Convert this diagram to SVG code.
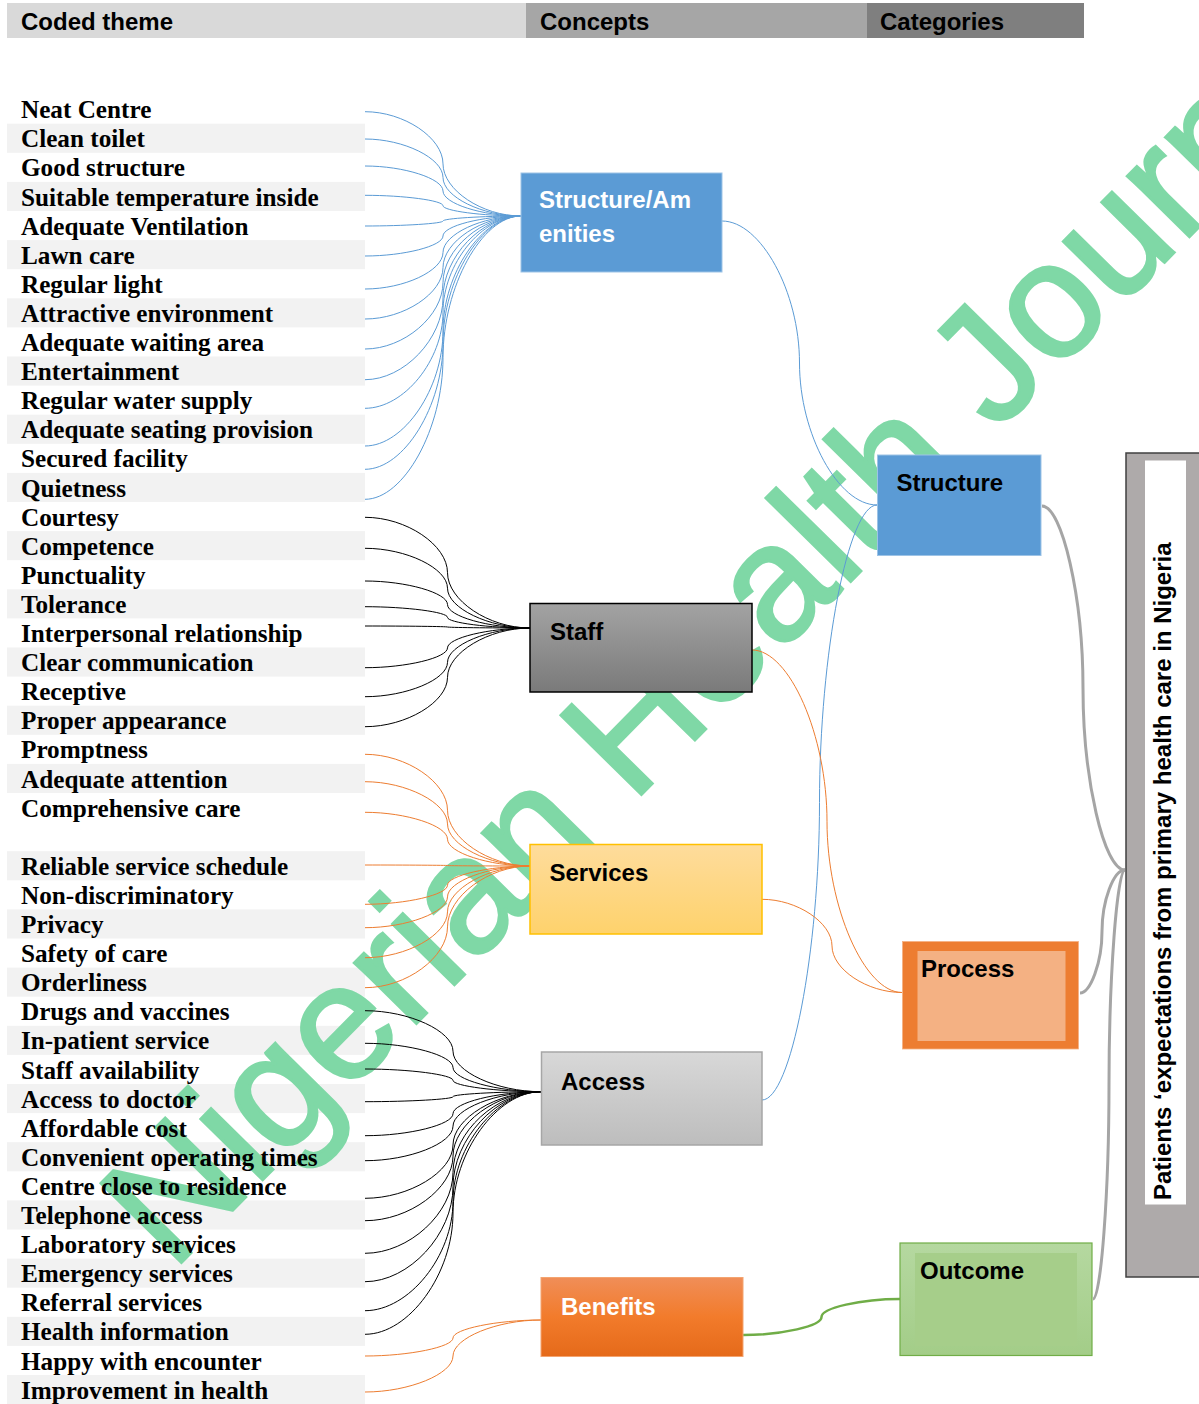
<svg xmlns="http://www.w3.org/2000/svg" width="1199" height="1404" viewBox="0 0 1199 1404">
<defs>
<linearGradient id="gStaff" x1="0" y1="0" x2="0" y2="1"><stop offset="0" stop-color="#a3a3a3"/><stop offset="1" stop-color="#7a7a7a"/></linearGradient>
<linearGradient id="gServ" x1="0" y1="0" x2="0" y2="1"><stop offset="0" stop-color="#fedc9c"/><stop offset="1" stop-color="#fed26c"/></linearGradient>
<linearGradient id="gAcc" x1="0" y1="0" x2="0" y2="1"><stop offset="0" stop-color="#d8d8d8"/><stop offset="1" stop-color="#bdbdbd"/></linearGradient>
<linearGradient id="gBen" x1="0" y1="0" x2="0" y2="1"><stop offset="0" stop-color="#f08e58"/><stop offset="0.5" stop-color="#f27b2b"/><stop offset="1" stop-color="#e56a1a"/></linearGradient>
<linearGradient id="gOut" x1="0" y1="0" x2="0" y2="1"><stop offset="0" stop-color="#b5d8a0"/><stop offset="1" stop-color="#a3cd88"/></linearGradient>
</defs>
<style>
.hd{font-family:"Liberation Sans",Arial,sans-serif;font-weight:bold;font-size:24px;fill:#000}
.it{font-family:"Liberation Serif","Times New Roman",serif;font-weight:bold;font-size:25.2px;fill:#000}
.bx{font-family:"Liberation Sans",Arial,sans-serif;font-weight:bold;font-size:24px}
.band{fill:#f2f2f2}
.wm{font-family:"Liberation Sans",Arial,sans-serif;font-size:164px;fill:#7fd8a6;stroke:#7fd8a6;stroke-width:3}
.cb{fill:none;stroke:#5b9bd5;stroke-width:1}
.ck{fill:none;stroke:#000;stroke-width:1}
.co{fill:none;stroke:#ed7d31;stroke-width:1}
.cg{fill:none;stroke:#a5a5a5;stroke-width:3}
.cgr{fill:none;stroke:#70ad47;stroke-width:2.5}
</style>
<rect width="1199" height="1404" fill="#fff"/>
<g id="header">
<rect x="7" y="3" width="519" height="35" fill="#d9d9d9"/>
<rect x="526" y="3" width="341" height="35" fill="#a6a6a6"/>
<rect x="867" y="3" width="217" height="35" fill="#7f7f7f"/>
<text class="hd" x="21" y="30">Coded theme</text>
<text class="hd" x="540" y="30">Concepts</text>
<text class="hd" x="880" y="30">Categories</text>
</g>
<g id="bands">
<rect class="band" x="7" y="123.7" width="358" height="29.1"/>
<rect class="band" x="7" y="181.9" width="358" height="29.1"/>
<rect class="band" x="7" y="240.1" width="358" height="29.1"/>
<rect class="band" x="7" y="298.3" width="358" height="29.1"/>
<rect class="band" x="7" y="356.5" width="358" height="29.1"/>
<rect class="band" x="7" y="414.7" width="358" height="29.1"/>
<rect class="band" x="7" y="472.9" width="358" height="29.1"/>
<rect class="band" x="7" y="531.1" width="358" height="29.1"/>
<rect class="band" x="7" y="589.3" width="358" height="29.1"/>
<rect class="band" x="7" y="647.5" width="358" height="29.1"/>
<rect class="band" x="7" y="705.7" width="358" height="29.1"/>
<rect class="band" x="7" y="763.9" width="358" height="29.1"/>
<rect class="band" x="7" y="851.2" width="358" height="29.1"/>
<rect class="band" x="7" y="909.4" width="358" height="29.1"/>
<rect class="band" x="7" y="967.6" width="358" height="29.1"/>
<rect class="band" x="7" y="1025.8" width="358" height="29.1"/>
<rect class="band" x="7" y="1084.0" width="358" height="29.1"/>
<rect class="band" x="7" y="1142.2" width="358" height="29.1"/>
<rect class="band" x="7" y="1200.4" width="358" height="29.1"/>
<rect class="band" x="7" y="1258.6" width="358" height="29.1"/>
<rect class="band" x="7" y="1316.8" width="358" height="29.1"/>
<rect class="band" x="7" y="1375.0" width="358" height="29.1"/>
</g>
<text class="wm" transform="translate(172,1272) rotate(-45.5)">Nigerian Health Journal</text>
<g id="connectors">
<path class="cb" d="M365,111.7 C404,111.7 443,137.8 443,163.9 C443,189.9 482,216 521,216"/>
<path class="cb" d="M365,139 C404,139 443,158.3 443,177.5 C443,196.8 482,216 521,216"/>
<path class="cb" d="M365,166 C404,166 443,178.5 443,191 C443,203.5 482,216 521,216"/>
<path class="cb" d="M365,195.3 C404,195.3 443,200.5 443,205.7 C443,210.8 482,216 521,216"/>
<path class="cb" d="M365,226 C404,226 443,223.5 443,221 C443,218.5 482,216 521,216"/>
<path class="cb" d="M365,256 C404,256 443,246 443,236 C443,226 482,216 521,216"/>
<path class="cb" d="M365,289 C404,289 443,270.8 443,252.5 C443,234.3 482,216 521,216"/>
<path class="cb" d="M365,319 C404,319 443,293.3 443,267.5 C443,241.8 482,216 521,216"/>
<path class="cb" d="M365,349 C404,349 443,315.8 443,282.5 C443,249.3 482,216 521,216"/>
<path class="cb" d="M365,379.7 C404,379.7 443,338.8 443,297.9 C443,256.9 482,216 521,216"/>
<path class="cb" d="M365,408.3 C404,408.3 443,360.2 443,312.2 C443,264.1 482,216 521,216"/>
<path class="cb" d="M365,446 C404,446 443,388.5 443,331 C443,273.5 482,216 521,216"/>
<path class="cb" d="M365,469.3 C404,469.3 443,406 443,342.7 C443,279.3 482,216 521,216"/>
<path class="cb" d="M365,499.3 C404,499.3 443,428.5 443,357.7 C443,286.8 482,216 521,216"/>
<path class="ck" d="M365,517.3 C406.3,517.3 447.5,545 447.5,572.7 C447.5,600.3 488.8,628 530,628"/>
<path class="ck" d="M365,548.3 C406.3,548.3 447.5,568.2 447.5,588.2 C447.5,608.1 488.8,628 530,628"/>
<path class="ck" d="M365,581 C406.3,581 447.5,592.8 447.5,604.5 C447.5,616.3 488.8,628 530,628"/>
<path class="ck" d="M365,606.7 C406.3,606.7 447.5,612 447.5,617.4 C447.5,622.7 488.8,628 530,628"/>
<path class="ck" d="M365,626 C406.3,626 447.5,626.5 447.5,627 C447.5,627.5 488.8,628 530,628"/>
<path class="ck" d="M365,667.7 C406.3,667.7 447.5,657.8 447.5,647.9 C447.5,637.9 488.8,628 530,628"/>
<path class="ck" d="M365,696.7 C406.3,696.7 447.5,679.5 447.5,662.4 C447.5,645.2 488.8,628 530,628"/>
<path class="ck" d="M365,726.7 C406.3,726.7 447.5,702 447.5,677.4 C447.5,652.7 488.8,628 530,628"/>
<path class="co" d="M365,754.3 C406.3,754.3 447.5,782.2 447.5,810.2 C447.5,838.1 488.8,866 530,866"/>
<path class="co" d="M365,781.7 C406.3,781.7 447.5,802.8 447.5,823.9 C447.5,844.9 488.8,866 530,866"/>
<path class="co" d="M365,812.3 C406.3,812.3 447.5,825.7 447.5,839.2 C447.5,852.6 488.8,866 530,866"/>
<path class="co" d="M365,865 C406.3,865 447.5,865.3 447.5,865.5 C447.5,865.8 488.8,866 530,866"/>
<path class="co" d="M365,904.3 C406.3,904.3 447.5,894.7 447.5,885.2 C447.5,875.6 488.8,866 530,866"/>
<path class="co" d="M365,927.7 C406.3,927.7 447.5,912.3 447.5,896.9 C447.5,881.4 488.8,866 530,866"/>
<path class="co" d="M365,957.7 C406.3,957.7 447.5,934.8 447.5,911.9 C447.5,888.9 488.8,866 530,866"/>
<path class="co" d="M365,987.7 C406.3,987.7 447.5,957.3 447.5,926.9 C447.5,896.4 488.8,866 530,866"/>
<path class="ck" d="M365,1010.7 C409,1010.7 453,1031 453,1051.2 C453,1071.5 497,1091.7 541,1091.7"/>
<path class="ck" d="M365,1043.3 C409,1043.3 453,1055.4 453,1067.5 C453,1079.6 497,1091.7 541,1091.7"/>
<path class="ck" d="M365,1069 C409,1069 453,1074.7 453,1080.4 C453,1086 497,1091.7 541,1091.7"/>
<path class="ck" d="M365,1101.7 C409,1101.7 453,1099.2 453,1096.7 C453,1094.2 497,1091.7 541,1091.7"/>
<path class="ck" d="M365,1135.7 C409,1135.7 453,1124.7 453,1113.7 C453,1102.7 497,1091.7 541,1091.7"/>
<path class="ck" d="M365,1160.7 C409,1160.7 453,1143.5 453,1126.2 C453,1109 497,1091.7 541,1091.7"/>
<path class="ck" d="M365,1198.3 C409,1198.3 453,1171.7 453,1145 C453,1118.4 497,1091.7 541,1091.7"/>
<path class="ck" d="M365,1220.7 C409,1220.7 453,1188.5 453,1156.2 C453,1124 497,1091.7 541,1091.7"/>
<path class="ck" d="M365,1253.3 C409,1253.3 453,1212.9 453,1172.5 C453,1132.1 497,1091.7 541,1091.7"/>
<path class="ck" d="M365,1281.7 C409,1281.7 453,1234.2 453,1186.7 C453,1139.2 497,1091.7 541,1091.7"/>
<path class="ck" d="M365,1310.7 C409,1310.7 453,1256 453,1201.2 C453,1146.5 497,1091.7 541,1091.7"/>
<path class="ck" d="M365,1334.3 C409,1334.3 453,1273.7 453,1213 C453,1152.4 497,1091.7 541,1091.7"/>
<path class="co" d="M365,1356 C409,1356 453,1347 453,1338 C453,1329 497,1320 541,1320"/>
<path class="co" d="M365,1392 C409,1392 453,1374 453,1356 C453,1338 497,1320 541,1320"/>
<path class="cb" d="M722,221 C760.8,221 799.5,292 799.5,363 C799.5,434 838.3,505 877,505"/>
<path class="cb" d="M762,1100 C790.8,1100 819.5,951.3 819.5,802.5 C819.5,653.8 848.3,505 877,505"/>
<path class="co" d="M752,650 C789.5,650 827,735.6 827,821.3 C827,906.9 864.5,992.5 902,992.5"/>
<path class="co" d="M762,899.3 C797,899.3 832,922.6 832,945.9 C832,969.2 867,992.5 902,992.5"/>
<path class="cgr" d="M743,1335 C782.3,1335 821.5,1326 821.5,1317 C821.5,1308 860.8,1299 900,1299"/>
<path class="cg" d="M1042,506 C1062,506 1083,597 1083,688 C1083,779 1104,870 1125,870"/>
<path class="cg" d="M1080,993 C1090.5,993 1102,962.3 1102,931.5 C1102,900.8 1113.5,870 1125,870"/>
<path class="cg" d="M1093,1299 C1101,1299 1109,1191.8 1109,1084.5 C1109,977.3 1117,870 1125,870"/>
</g>
<g id="items">
<text class="it" x="21" y="118.2">Neat Centre</text>
<text class="it" x="21" y="147.3">Clean toilet</text>
<text class="it" x="21" y="176.4">Good structure</text>
<text class="it" x="21" y="205.5">Suitable temperature inside</text>
<text class="it" x="21" y="234.6">Adequate Ventilation</text>
<text class="it" x="21" y="263.7">Lawn care</text>
<text class="it" x="21" y="292.8">Regular light</text>
<text class="it" x="21" y="321.9">Attractive environment</text>
<text class="it" x="21" y="351.0">Adequate waiting area</text>
<text class="it" x="21" y="380.1">Entertainment</text>
<text class="it" x="21" y="409.2">Regular water supply</text>
<text class="it" x="21" y="438.3">Adequate seating provision</text>
<text class="it" x="21" y="467.4">Secured facility</text>
<text class="it" x="21" y="496.5">Quietness</text>
<text class="it" x="21" y="525.6">Courtesy</text>
<text class="it" x="21" y="554.7">Competence</text>
<text class="it" x="21" y="583.8">Punctuality</text>
<text class="it" x="21" y="612.9">Tolerance</text>
<text class="it" x="21" y="642.0">Interpersonal relationship</text>
<text class="it" x="21" y="671.1">Clear communication</text>
<text class="it" x="21" y="700.2">Receptive</text>
<text class="it" x="21" y="729.3">Proper appearance</text>
<text class="it" x="21" y="758.4">Promptness</text>
<text class="it" x="21" y="787.5">Adequate attention</text>
<text class="it" x="21" y="816.6">Comprehensive care</text>
<text class="it" x="21" y="874.8">Reliable service schedule</text>
<text class="it" x="21" y="903.9">Non-discriminatory</text>
<text class="it" x="21" y="933.0">Privacy</text>
<text class="it" x="21" y="962.1">Safety of care</text>
<text class="it" x="21" y="991.2">Orderliness</text>
<text class="it" x="21" y="1020.3">Drugs and vaccines</text>
<text class="it" x="21" y="1049.4">In-patient service</text>
<text class="it" x="21" y="1078.5">Staff availability</text>
<text class="it" x="21" y="1107.6">Access to doctor</text>
<text class="it" x="21" y="1136.7">Affordable cost</text>
<text class="it" x="21" y="1165.8">Convenient operating times</text>
<text class="it" x="21" y="1194.9">Centre close to residence</text>
<text class="it" x="21" y="1224.0">Telephone access</text>
<text class="it" x="21" y="1253.1">Laboratory services</text>
<text class="it" x="21" y="1282.2">Emergency services</text>
<text class="it" x="21" y="1311.3">Referral services</text>
<text class="it" x="21" y="1340.4">Health information</text>
<text class="it" x="21" y="1369.5">Happy with encounter</text>
<text class="it" x="21" y="1398.6">Improvement in health</text>
</g>
<g id="node-structure-amenities">
<rect x="521" y="173" width="201" height="99" fill="#5b9bd5" stroke="#9dc3e6" stroke-width="1"/>
<text class="bx" x="539" y="207.7" fill="#fff" font-size="25">Structure/Am</text>
<text class="bx" x="539" y="242.3" fill="#fff" font-size="25">enities</text>
</g>
<g id="node-staff">
<rect x="530" y="603.5" width="222" height="88.5" fill="url(#gStaff)" stroke="#000" stroke-width="1.5"/>
<text class="bx" x="550" y="640" fill="#000">Staff</text>
</g>
<g id="node-services">
<rect x="530" y="844.5" width="232" height="89.5" fill="url(#gServ)" stroke="#ffc000" stroke-width="1.5"/>
<text class="bx" x="549.5" y="880.7" fill="#000" font-size="23">Services</text>
</g>
<g id="node-access">
<rect x="541.5" y="1052" width="220.5" height="93" fill="url(#gAcc)" stroke="#a6a6a6" stroke-width="1.5"/>
<text class="bx" x="561" y="1089.5" fill="#000" font-size="23">Access</text>
</g>
<g id="node-benefits">
<rect x="541" y="1277.5" width="202" height="79" fill="url(#gBen)" stroke="#f4a470" stroke-width="1"/>
<text class="bx" x="561" y="1315" fill="#fff">Benefits</text>
</g>
<g id="node-structure">
<rect x="877.5" y="455" width="163.5" height="100.5" fill="#5b9bd5" stroke="#9dc3e6" stroke-width="1"/>
<text class="bx" x="896.5" y="490.7" fill="#000">Structure</text>
</g>
<g id="node-process">
<rect x="902.5" y="941.5" width="176" height="107.5" fill="#ed7d31" stroke="#f4b183" stroke-width="0.8"/>
<rect x="917.5" y="951" width="148" height="90" fill="#f4b183"/>
<text class="bx" x="921" y="976.7" fill="#000" font-size="23">Process</text>
</g>
<g id="node-outcome">
<rect x="900" y="1243" width="192" height="112.5" fill="url(#gOut)" stroke="#70ad47" stroke-width="1.2"/>
<rect x="915" y="1253" width="162" height="93" fill="#a6ce8a"/>
<text class="bx" x="920" y="1279.3" fill="#000">Outcome</text>
</g>
<g id="node-expectations">
<rect x="1126" y="453" width="80" height="824" fill="#aeaaaa" stroke="#404040" stroke-width="1.5"/>
<rect x="1145" y="460.5" width="41" height="744" fill="#fff"/>
<text class="bx" transform="translate(1171,1200) rotate(-90)" fill="#000" font-size="24.4">Patients ‘expectations from primary health care in Nigeria</text>
</g>
</svg>
